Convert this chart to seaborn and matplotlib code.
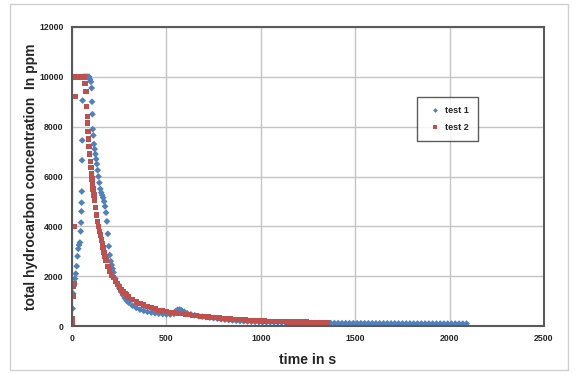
import matplotlib
matplotlib.use("Agg")
import matplotlib.pyplot as plt
from matplotlib.patches import Rectangle
import pandas as pd
import seaborn as sns

# test 1 (blue diamonds): time in s, concentration in ppm
t1_time = [0, 3, 6, 9, 12, 16, 20, 25, 29, 33, 37, 42, 46, 48, 50, 51, 52, 53, 54, 56,
           60, 65, 70, 75, 80, 85, 90, 95, 100, 104, 106, 108, 110, 113, 116, 120, 124,
           128, 132, 136, 140, 145, 150, 155, 160, 165, 170, 175, 180, 185, 190, 195,
           200, 205, 210, 215, 220, 230, 240, 250, 260, 270, 280, 290, 300, 320, 340,
           360, 380, 400, 420, 440, 460, 480, 500, 520, 540, 550, 560, 570, 580, 595,
           610, 630, 650, 670, 690, 710, 730, 750, 770, 790, 810, 830, 850, 870, 890,
           910, 930, 950, 970, 990, 1010, 1030, 1050, 1070, 1090, 1110, 1130, 1150,
           1170, 1190, 1210, 1230, 1250, 1270, 1290, 1310, 1330, 1350, 1370, 1390,
           1410, 1430, 1450, 1470, 1490, 1510, 1530, 1550, 1570, 1590, 1610, 1630,
           1650, 1670, 1690, 1710, 1730, 1750, 1770, 1790, 1810, 1830, 1850, 1870,
           1890, 1910, 1930, 1950, 1970, 1990, 2010, 2030, 2050, 2070, 2090]
t1_conc = [100, 700, 1300, 1600, 1700, 1900, 2100, 2400, 2800, 3100, 3250, 3350, 3800,
           4150, 4600, 4950, 5400, 6650, 7450, 9050,
           10000, 10000, 10000, 10000, 10000, 10000, 10000, 9900, 9800, 9550, 9000,
           8500, 7900, 7650, 7300, 7100, 6900, 6700, 6500, 6250, 6000, 5750, 5500,
           5350, 5250, 5150, 5000, 4800, 4550, 4200, 3700, 3200, 2850, 2600, 2450,
           2300, 2150, 1900, 1700, 1520, 1370, 1240, 1120, 1020, 940, 820, 730, 660,
           610, 570, 540, 515, 495, 480, 465, 460, 490, 600, 650, 660, 630, 570, 510,
           465, 430, 400, 375, 355, 335, 315, 295, 275, 255, 240, 225, 210, 200, 190,
           180, 172, 165, 160, 155, 150, 148, 145, 142, 140, 138, 136, 134, 132, 130,
           128, 126, 124, 122, 120, 119, 118, 117, 116, 115, 114, 113, 112, 111, 110,
           110, 109, 108, 108, 107, 106, 106, 105, 104, 104, 103, 102, 102, 101, 100,
           100, 99, 99, 98, 98, 97, 97, 96, 96, 95, 95, 95, 94, 94]

# test 2 (red squares)
t2_time = [0, 2, 4, 6, 8, 10, 13, 16, 20, 24, 28, 32, 36, 40, 44, 48, 52, 56, 60, 65,
           69, 74, 78, 81, 83, 85, 88, 91, 94, 97, 100, 103, 106, 109, 112, 116, 120,
           125, 130, 135, 140, 145, 150, 155, 160, 165, 170, 175, 180, 190, 200, 210,
           220, 230, 240, 250, 260, 270, 280, 290, 300, 320, 340, 360, 380, 400, 420,
           440, 460, 480, 500, 520, 540, 560, 580, 600, 620, 640, 660, 680, 700, 720,
           740, 760, 780, 800, 820, 840, 860, 880, 900, 920, 940, 960, 980, 1000,
           1020, 1040, 1060, 1080, 1100, 1120, 1140, 1160, 1180, 1200, 1220, 1240,
           1260, 1280, 1300, 1320, 1340, 1350]
t2_conc = [0, 170, 300, 1200, 1600, 1700, 4000, 9200, 10000, 10000, 10000, 10000,
           10000, 10000, 10000, 10000, 10000, 10000, 10000, 10000,
           9740, 9400, 8800, 8400, 8150, 7800, 7500, 7200, 6900, 6600, 6350, 6100,
           5900, 5700, 5500, 5250, 5050, 4750, 4450, 4200, 4000, 3800, 3650, 3450,
           3300, 3150, 2950, 2800, 2650, 2400, 2200, 2050, 1950, 1800, 1680, 1560,
           1460, 1370, 1300, 1240, 1170, 1060, 970, 900, 840, 790, 740, 690, 630, 600,
           575, 550, 530, 510, 490, 470, 450, 430, 410, 390, 375, 360, 345, 330, 315,
           300, 290, 280, 270, 260, 250, 240, 230, 220, 210, 200, 195, 190, 185, 180,
           176, 172, 168, 165, 162, 159, 156, 153, 150, 148, 146, 144, 142, 140]

x_ticks = [0, 500, 1000, 1500, 2000, 2500]
y_ticks = [0, 2000, 4000, 6000, 8000, 10000, 12000]

df = pd.concat([
    pd.DataFrame({"time": t1_time, "conc": t1_conc, "series": "test 1"}),
    pd.DataFrame({"time": t2_time, "conc": t2_conc, "series": "test 2"}),
])

sns.set_style("white")
plt.rcParams["font.family"] = ["Liberation Sans", "DejaVu Sans"]
plt.rcParams["font.weight"] = "bold"

fig = plt.figure(figsize=(5.79, 3.74), dpi=100)
ax = fig.add_axes([72 / 579, 1 - 326 / 374, 472 / 579, 299 / 374])

palette = {"test 1": "#4f81bd", "test 2": "#c0504d"}
sns.scatterplot(data=df, x="time", y="conc", hue="series", style="series",
                markers={"test 1": "D", "test 2": "s"}, palette=palette,
                size="series", sizes={"test 1": 12, "test 2": 15},
                linewidth=0, ax=ax)

ax.set_xlim(0, 2500)
ax.set_ylim(0, 12000)
ax.set_xticks(x_ticks)
ax.set_yticks(y_ticks)
ax.set_xticklabels([str(v) for v in x_ticks], fontsize=6.3, fontweight="bold")
ax.set_yticklabels([str(v) for v in y_ticks], fontsize=6.3, fontweight="bold")
ax.tick_params(length=0, pad=6)
ax.grid(True, color="#c4c4c4", linewidth=1)
ax.set_axisbelow(True)
for sp in ax.spines.values():
    sp.set_color("#5a5a5a")
    sp.set_linewidth(1.5)

ax.set_xlabel("time in s", fontsize=10.2, fontweight="bold", labelpad=7)
ax.set_ylabel("total hydrocarbon concentration  In ppm", fontsize=10,
              fontweight="bold", labelpad=1)

leg = ax.legend(loc="upper left", bbox_to_anchor=((417 - 72) / 472, (326 - 97) / 299),
                frameon=True, fancybox=False, fontsize=6.5, markerscale=0.7,
                handletextpad=0.1, borderpad=1.0, labelspacing=0.9,
                handlelength=2.0, borderaxespad=0)
leg.get_frame().set_edgecolor("#333333")
leg.get_frame().set_linewidth(1)
for txt in leg.get_texts():
    txt.set_fontweight("bold")

fig.patches.append(Rectangle((10 / 579, 4 / 374), 558 / 579, 366 / 374,
                             transform=fig.transFigure, fill=False,
                             edgecolor="#d0d0d0", linewidth=1))

fig.savefig("out.png", dpi=100)
